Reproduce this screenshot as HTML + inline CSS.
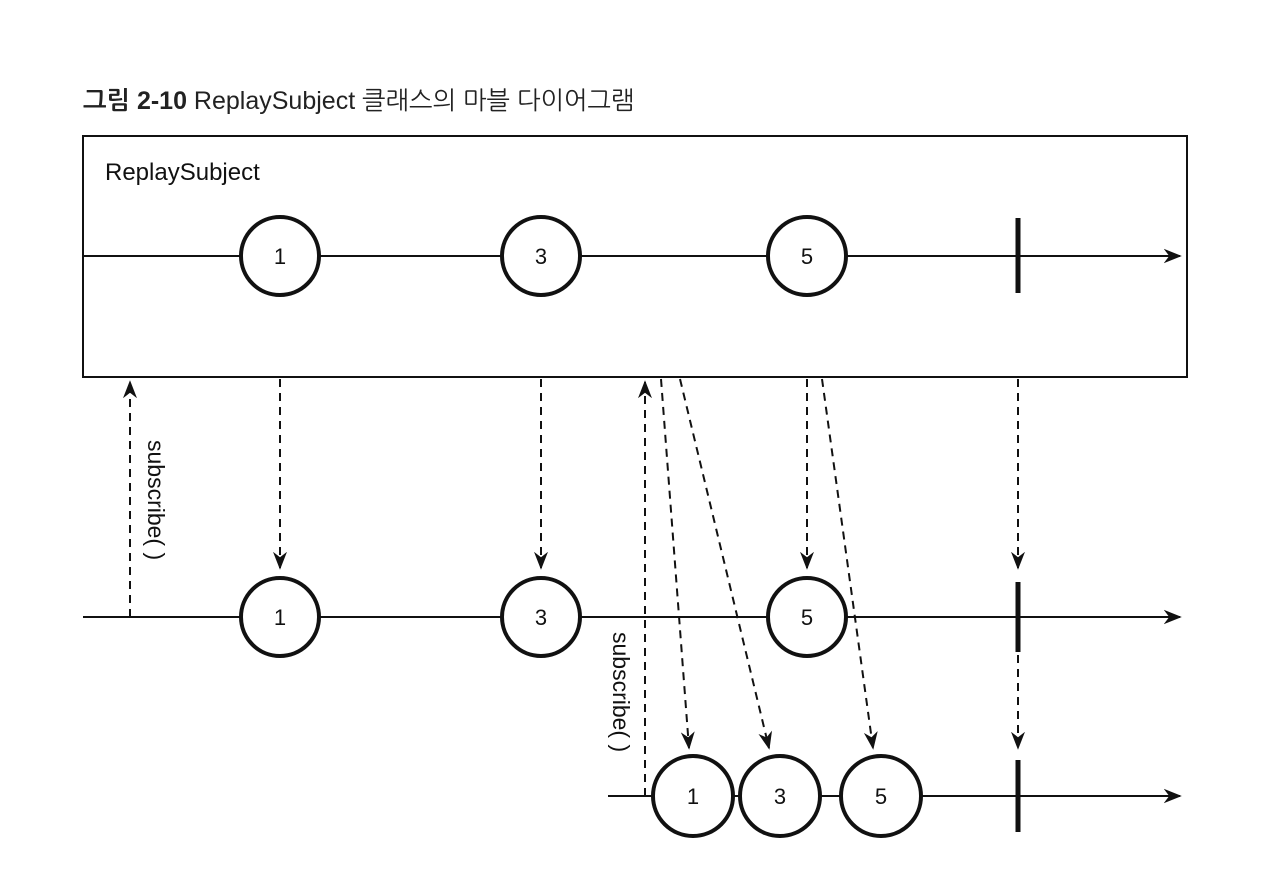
<!DOCTYPE html>
<html><head><meta charset="utf-8"><style>body{margin:0;background:#fff}</style></head><body>
<svg width="1280" height="882" xmlns="http://www.w3.org/2000/svg" font-family="Liberation Sans, NanumGothic, sans-serif">
<defs>
<marker id="a" viewBox="0 0 10 10" refX="9" refY="5" markerWidth="18" markerHeight="14" markerUnits="userSpaceOnUse" orient="auto" preserveAspectRatio="none"><path d="M0,0 L10,5 L0,10 L3,5 z" fill="#111"/></marker>
<marker id="b" viewBox="0 0 10 10" refX="9" refY="5" markerWidth="18" markerHeight="18" markerUnits="userSpaceOnUse" orient="auto"><path d="M0,1 L10,5 L0,9 L3,5 z" fill="#111"/></marker>
</defs>
<text x="83" y="109" font-size="25" fill="#222"><tspan font-weight="bold">그림 2-10</tspan> ReplaySubject 클래스의 마블 다이어그램</text>
<rect x="83" y="136" width="1104" height="241" fill="none" stroke="#111" stroke-width="2"/>
<text x="105" y="180" font-size="24" fill="#111">ReplaySubject</text>
<g stroke="#111" stroke-width="2" fill="none">
<line x1="83" y1="256" x2="1180" y2="256" marker-end="url(#b)"/>
<line x1="83" y1="617" x2="1180" y2="617" marker-end="url(#b)"/>
<line x1="608" y1="796" x2="1180" y2="796" marker-end="url(#b)"/>
</g>
<g stroke="#111" stroke-width="4" fill="#fff">
<circle cx="280" cy="256" r="39"/><circle cx="541" cy="256" r="39"/><circle cx="807" cy="256" r="39"/>
<circle cx="280" cy="617" r="39"/><circle cx="541" cy="617" r="39"/><circle cx="807" cy="617" r="39"/>
<circle cx="693" cy="796" r="40"/><circle cx="780" cy="796" r="40"/><circle cx="881" cy="796" r="40"/>
<line x1="1018" y1="218" x2="1018" y2="293" stroke-width="5"/>
<line x1="1018" y1="582" x2="1018" y2="652" stroke-width="5"/>
<line x1="1018" y1="760" x2="1018" y2="832" stroke-width="5"/>
</g>
<g font-size="22" text-anchor="middle" fill="#111">
<text x="280" y="264">1</text><text x="541" y="264">3</text><text x="807" y="264">5</text>
<text x="280" y="625">1</text><text x="541" y="625">3</text><text x="807" y="625">5</text>
<text x="693" y="804">1</text><text x="780" y="804">3</text><text x="881" y="804">5</text>
</g>
<g stroke="#111" stroke-width="2" stroke-dasharray="8,6" fill="none" marker-end="url(#a)">
<line x1="280" y1="379" x2="280" y2="568"/>
<line x1="541" y1="379" x2="541" y2="568"/>
<line x1="807" y1="379" x2="807" y2="568"/>
<line x1="1018" y1="379" x2="1018" y2="568"/>
<line x1="1018" y1="655" x2="1018" y2="748"/>
<line x1="661" y1="379" x2="689" y2="748"/>
<line x1="680" y1="379" x2="769" y2="748"/>
<line x1="822" y1="379" x2="873" y2="748"/>
<line x1="130" y1="617" x2="130" y2="382"/>
<line x1="645" y1="796" x2="645" y2="382"/>
</g>
<text font-size="23" fill="#111" transform="translate(148,440) rotate(90)">subscribe( )</text>
<text font-size="23" fill="#111" transform="translate(613,632) rotate(90)">subscribe( )</text>
</svg>
</body></html>
